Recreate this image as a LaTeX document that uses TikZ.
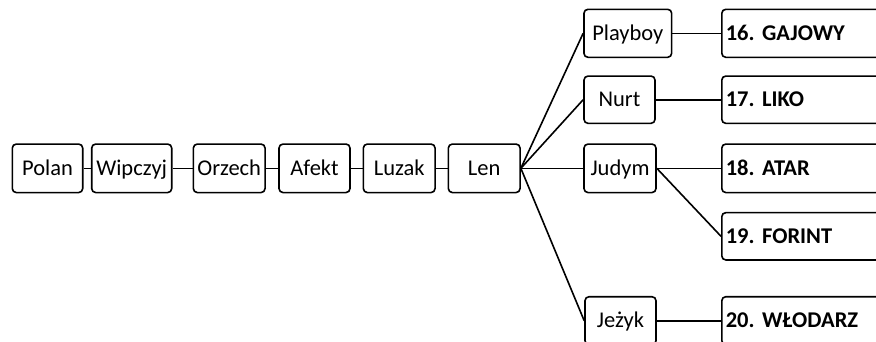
\documentclass[tikz,border=0pt]{standalone}
\usepackage{fontspec}
\setmainfont{Carlito}
\frenchspacing
\begin{document}
\begin{tikzpicture}[x=1pt,y=-1pt,
  box/.style={draw=black, line width=1.6pt, rounded corners=4pt, fill=white, inner sep=0pt,
    minimum height=48.5pt, text height=14.5pt, text depth=0pt, font=\fontsize{22.5}{25}\selectfont},
  res/.style={draw=black, line width=1.6pt, rounded corners=4pt, fill=white, inner xsep=4pt, inner ysep=0pt,
    minimum height=48pt, text height=14.5pt, text depth=0pt, text width=192pt, align=left, anchor=west,
    font=\fontsize{22.5}{25}\selectfont\bfseries},
  conn/.style={line width=1.6pt}]
\useasboundingbox (0,0) rectangle (876,341);
\clip (0,0) rectangle (876,341);
% chain
\node[box, minimum width=70.4pt] (polan) at (47.5,168.3) {Polan};
\node[box, minimum width=80pt] (wip) at (131.7,168.3) {Wipczyj};
\node[box, minimum width=71.7pt] (orz) at (229.2,168.3) {Orzech};
\node[box, minimum width=71pt] (afe) at (314.5,168.3) {Afekt};
\node[box, minimum width=71.7pt] (luz) at (399.2,168.3) {Luzak};
\node[box, minimum width=71.7pt] (len) at (484.2,168.3) {Len};
% middle column
\node[box, minimum width=87.7pt, minimum height=48pt] (play) at (627.8,33.3) {Playboy};
\node[box, minimum width=71pt, minimum height=47.3pt] (nurt) at (619.5,99.7) {Nurt};
\node[box, minimum width=72pt] (judym) at (620,168.3) {Judym};
\node[box, minimum width=71pt, minimum height=48pt] (jez) at (620.5,320.7) {Jeżyk};
% results
\node[res] (r16) at (721,33.3) {16. GAJOWY};
\node[res, minimum height=47.3pt] (r17) at (721,99.7) {17. LIKO};
\node[res, minimum height=48.5pt] (r18) at (721,168.3) {18. ATAR};
\node[res, minimum height=47.3pt] (r19) at (721,236.3) {19. FORINT};
\node[res] (r20) at (721,320.7) {20. WŁODARZ};
% connectors
\draw[conn] (polan) -- (wip);
\draw[conn] (wip) -- (orz);
\draw[conn] (orz) -- (afe);
\draw[conn] (afe) -- (luz);
\draw[conn] (luz) -- (len);
\draw[conn] (len.east) -- (play.west);
\draw[conn] (len.east) -- (nurt.west);
\draw[conn] (len.east) -- (judym.west);
\draw[conn] (len.east) -- (jez.west);
\draw[conn] (play) -- (r16);
\draw[conn] (nurt) -- (r17);
\draw[conn] (judym) -- (r18);
\draw[conn] (judym.east) -- (r19.west);
\draw[conn] (jez) -- (r20);
\end{tikzpicture}
\end{document}
